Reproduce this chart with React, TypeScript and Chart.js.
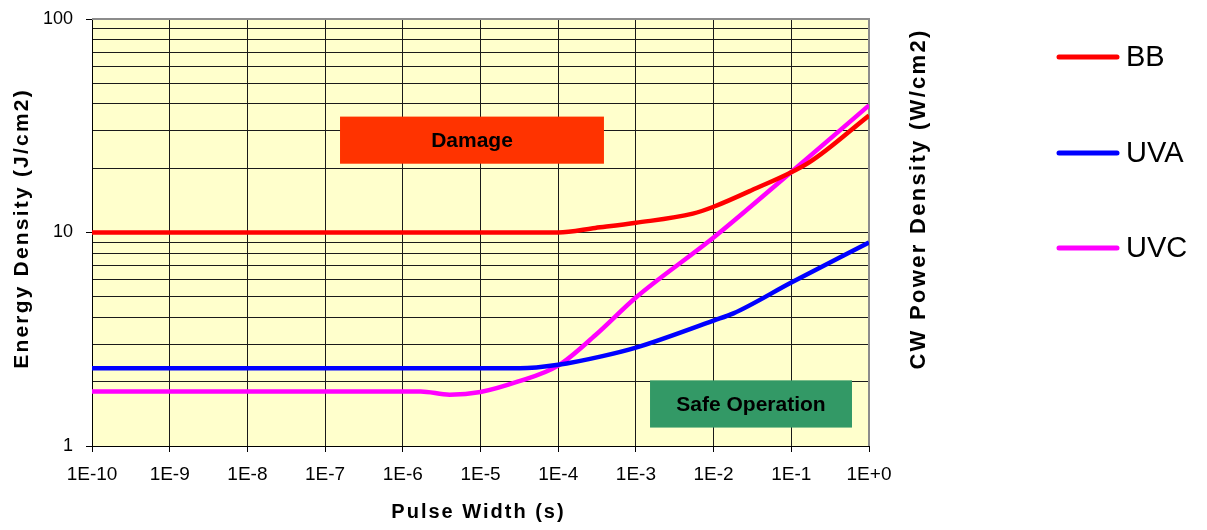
import { useEffect, useRef } from "react";
import { Chart, registerables } from "chart.js";

Chart.register(...registerables);

// ---- data ----
const seriesNames = ["BB", "UVA", "UVC"];
const seriesColors = ["#FF0000", "#0000FF", "#FF00FF"];

const bbPulse = [1e-10, 1e-4, 3e-4, 1e-3, 5.4e-3, 1e-2, 3e-2, 0.17, 1];
const bbDensity = [10, 10, 10.5, 11.1, 12.25, 13.2, 15.7, 21.3, 35.3];

const uvaPulse = [1e-10, 3.2e-5, 1e-4, 3.6e-4, 1e-3, 1e-2, 1.8e-2, 1e-1, 1];
const uvaDensity = [2.31, 2.31, 2.4, 2.63, 2.89, 3.87, 4.18, 5.83, 8.98];

const uvcPulse = [1e-10, 1.7e-6, 4e-6, 1e-5, 3e-5, 1e-4, 3e-4, 1e-3, 1e-2, 1e-1, 1];
const uvcDensity = [1.8, 1.8, 1.74, 1.79, 2.0, 2.38, 3.3, 4.96, 9.47, 19.2, 39.4];

const xTickValues = [1e-10, 1e-9, 1e-8, 1e-7, 1e-6, 1e-5, 1e-4, 1e-3, 1e-2, 1e-1, 1];
const xTickLabels = ["1E-10", "1E-9", "1E-8", "1E-7", "1E-6", "1E-5", "1E-4", "1E-3", "1E-2", "1E-1", "1E+0"];

const yTickValues = [1, 2, 3, 4, 5, 6, 7, 8, 9, 10, 20, 30, 40, 50, 60, 70, 80, 90, 100];
const yLabelValues = [1, 10, 100];
const yTickLabels = ["1", "10", "100"];

const zoneTexts = ["Damage", "Safe Operation"];
const zoneColors = ["#FF3300", "#339966"];
const zoneX = [
  [1.556e-7, 3.88e-4],
  [1.52e-3, 0.604],
];
const zoneY = [
  [21.0, 34.9],
  [1.22, 2.03],
];

const xTitle = "Pulse Width (s)";
const yTitle = "Energy Density (J/cm2)";
const y2Title = "CW Power Density (W/cm2)";

const FONT = "'Liberation Sans', Arial, sans-serif";

function findIndex(values: number[], v: number) {
  return values.findIndex((t) => Math.abs(Math.log10(t) - Math.log10(v)) < 1e-6);
}

const decorPlugin = {
  id: "decor",
  beforeDraw(chart: any) {
    const { ctx, chartArea: a } = chart;
    ctx.save();
    ctx.fillStyle = "#FFFFCC";
    ctx.fillRect(a.left, a.top, a.right - a.left, a.bottom - a.top);
    ctx.restore();
  },
  beforeDatasetsDraw(chart: any) {
    const { ctx, chartArea: a, scales } = chart;
    const xs = scales.x;
    const ys = scales.y;
    ctx.save();
    // gray top / right border
    ctx.strokeStyle = "#8C8C8C";
    ctx.lineWidth = 2;
    ctx.beginPath();
    ctx.moveTo(a.left, a.top);
    ctx.lineTo(a.right, a.top);
    ctx.lineTo(a.right, a.bottom);
    ctx.stroke();
    // zones
    for (let i = 0; i < zoneTexts.length; i++) {
      const x0 = xs.getPixelForValue(zoneX[i][0]);
      const x1 = xs.getPixelForValue(zoneX[i][1]);
      const y0 = ys.getPixelForValue(zoneY[i][1]);
      const y1 = ys.getPixelForValue(zoneY[i][0]);
      ctx.fillStyle = zoneColors[i];
      ctx.fillRect(x0, y0, x1 - x0, y1 - y0);
      ctx.fillStyle = "#000";
      ctx.font = `bold 21px ${FONT}`;
      ctx.textAlign = "center";
      ctx.textBaseline = "middle";
      ctx.fillText(zoneTexts[i], (x0 + x1) / 2, (y0 + y1) / 2 + 1);
    }
    ctx.restore();
  },
  afterDraw(chart: any) {
    const { ctx, chartArea: a } = chart;
    ctx.save();
    ctx.fillStyle = "#000";
    // x title
    ctx.font = `bold 20px ${FONT}`;
    (ctx as any).letterSpacing = "2px";
    ctx.textAlign = "center";
    ctx.textBaseline = "alphabetic";
    ctx.fillText(xTitle, (a.left + a.right) / 2 - 2, 518);
    // left y title
    ctx.save();
    ctx.translate(28, (a.top + a.bottom) / 2 - 4);
    ctx.rotate(-Math.PI / 2);
    ctx.font = `bold 21px ${FONT}`;
    (ctx as any).letterSpacing = "2.2px";
    ctx.fillText(yTitle, 0, 0);
    ctx.restore();
    // right title
    ctx.save();
    ctx.translate(925, 199);
    ctx.rotate(-Math.PI / 2);
    ctx.font = `bold 22px ${FONT}`;
    (ctx as any).letterSpacing = "2.3px";
    ctx.fillText(y2Title, 0, 0);
    ctx.restore();
    // legend
    (ctx as any).letterSpacing = "0px";
    const legendY = [57, 153, 248];
    chart.data.datasets.forEach((ds: any, i: number) => {
      const y = legendY[i];
      ctx.strokeStyle = ds.borderColor;
      ctx.lineWidth = 5;
      ctx.lineCap = "round";
      ctx.beginPath();
      ctx.moveTo(1059, y);
      ctx.lineTo(1117, y);
      ctx.stroke();
      ctx.fillStyle = "#000";
      ctx.font = `29px ${FONT}`;
      ctx.textAlign = "left";
      ctx.textBaseline = "middle";
      ctx.fillText(ds.label, 1126, y + 1);
    });
    ctx.restore();
  },
};

export default function App() {
  const canvasRef = useRef<HTMLCanvasElement | null>(null);

  useEffect(() => {
    if (!canvasRef.current) return;
    const pulses = [bbPulse, uvaPulse, uvcPulse];
    const dens = [bbDensity, uvaDensity, uvcDensity];
    const chart = new Chart(canvasRef.current, {
      type: "line",
      data: {
        datasets: seriesNames.map((name, i) => ({
          label: name,
          data: pulses[i].map((x, j) => ({ x, y: dens[i][j] })),
          borderColor: seriesColors[i],
          backgroundColor: seriesColors[i],
          borderWidth: 4.5,
          pointRadius: 0,
          fill: false,
          cubicInterpolationMode: "monotone" as const,
        })),
      },
      options: {
        animation: false,
        responsive: true,
        maintainAspectRatio: false,
        layout: { padding: { top: 19, right: 338, left: 0, bottom: 0 } },
        plugins: {
          legend: { display: false },
          tooltip: { enabled: false },
          title: { display: false },
        },
        scales: {
          x: {
            type: "logarithmic",
            min: 1e-10,
            max: 1,
            afterBuildTicks: (s: any) => {
              s.ticks = xTickValues.map((v) => ({ value: v }));
            },
            afterFit: (s: any) => {
              s.height = 84;
            },
            ticks: {
              autoSkip: false,
              maxRotation: 0,
              color: "#000",
              padding: 11,
              font: { family: FONT, size: 19 },
              callback: (v: any) => {
                const i = findIndex(xTickValues, Number(v));
                return i >= 0 ? xTickLabels[i] : "";
              },
            },
            grid: { color: "#1A1A1A", lineWidth: 1, tickLength: 6, tickColor: "#000" },
            border: { color: "#000", width: 1 },
          },
          y: {
            type: "logarithmic",
            min: 1,
            max: 100,
            afterBuildTicks: (s: any) => {
              s.ticks = yTickValues.map((v) => ({ value: v }));
            },
            afterFit: (s: any) => {
              s.width = 92;
            },
            ticks: {
              autoSkip: false,
              color: "#000",
              padding: 13,
              font: { family: FONT, size: 18, lineHeight: 0.5 },
              callback: (v: any) => {
                const i = yLabelValues.indexOf(Number(v));
                return i >= 0 ? yTickLabels[i] : "";
              },
            },
            grid: {
              color: "#1A1A1A",
              lineWidth: 1,
              tickLength: 6,
              tickColor: (c: any) =>
                c.tick && yLabelValues.includes(c.tick.value) ? "#000" : "rgba(0,0,0,0)",
            },
            border: { color: "#000", width: 1 },
          },
        },
      },
      plugins: [decorPlugin],
    });
    return () => chart.destroy();
  }, []);

  return (
    <div style={{ position: "fixed", left: 0, top: 0, width: "1207px", height: "530px", background: "#fff" }}>
      <canvas ref={canvasRef} />
    </div>
  );
}
